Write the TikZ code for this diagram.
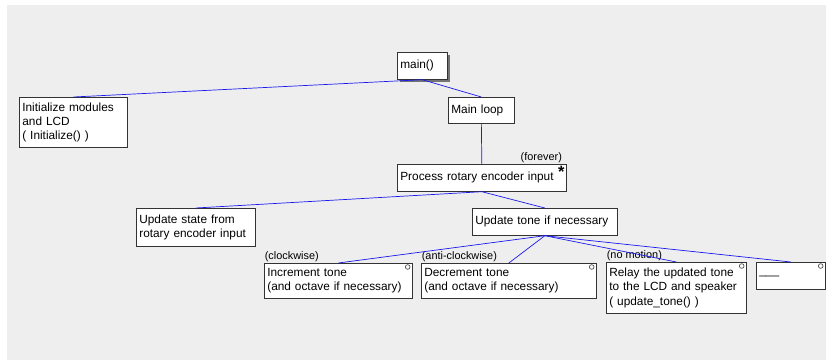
\documentclass[tikz,border=0pt]{standalone}
\usepackage{fontspec}
\setmainfont{Liberation Sans}
\usetikzlibrary{shadows}
\definecolor{canvas}{RGB}{238,238,238}
\definecolor{wire}{RGB}{25,25,240}
\begin{document}
\begin{tikzpicture}[x=0.03cm, y=-0.03cm,
		jbox/.style={draw=black!80, fill=white, anchor=north west, align=left, inner xsep=0.09cm, inner ysep=0pt, line width=0.6pt, font=\fontsize{10.1}{12.3}\selectfont},
		cond/.style={inner sep=0.5pt, font=\fontsize{9.3}{10}\selectfont},
		sel/.style={circle, draw=black!80, fill=white, inner sep=0pt, minimum size=0.14cm, line width=0.5pt},
		link/.style={wire, line width=0.6pt}]
		\useasboundingbox (0,0) rectangle (826,360);
		\fill[canvas] (7,5) rectangle (826,360);
		\node[jbox, text width=1.32cm, minimum height=0.81cm, drop shadow={shadow xshift=0.09cm, shadow yshift=-0.09cm, fill=black!55, opacity=1}] (main) at (397,52) {main()};
		\node[jbox, text width=1.8cm, minimum height=0.78cm] (loop) at (448,97) {Main loop};
		\node[jbox, text width=3.06cm, minimum height=1.5cm] (init) at (19,97) {Initialize modules\\and LCD\\( Initialize() )};
		\node[jbox, text width=4.89cm, minimum height=0.81cm] (proc) at (397,164) {Process rotary encoder input};
		\node[jbox, text width=3.39cm, minimum height=1.14cm] (state) at (136,208) {Update state from\\rotary encoder input};
		\node[jbox, text width=4.17cm, minimum height=0.81cm] (tone) at (472,208) {Update tone if necessary};
		\node[jbox, text width=4.26cm, minimum height=1.05cm] (inc) at (264,263) {Increment tone\\(and octave if necessary)};
		\node[jbox, text width=5.07cm, minimum height=1.05cm] (dec) at (421,263) {Decrement tone\\(and octave if necessary)};
		\node[jbox, text width=4.02cm, minimum height=1.53cm] (relay) at (606,262) {Relay the updated tone\\to the LCD and speaker\\( update\_tone() )};
		\node[jbox, text width=1.89cm, minimum height=0.81cm] (idle) at (756,262) {\_\_\_};
		\node[cond, anchor=south east] (forever) at ([xshift=-0.12cm]proc.north east) {(forever)};
		\node[cond, anchor=south west] (cw) at (inc.north west) {(clockwise)};
		\node[cond, anchor=south west] (acw) at (dec.north west) {(anti-clockwise)};
		\node[cond, anchor=south west] (still) at (relay.north west) {(no motion)};
		\node[inner sep=0pt, font=\fontsize{14}{14}\selectfont\bfseries] (iter) at ([shift={(-0.16cm,-0.24cm)}]proc.north east) {*};
		\node[sel] (incsel) at ([shift={(-0.15cm,-0.12cm)}]inc.north east) {};
		\node[sel] (decsel) at ([shift={(-0.15cm,-0.12cm)}]dec.north east) {};
		\node[sel] (relaysel) at ([shift={(-0.15cm,-0.12cm)}]relay.north east) {};
		\node[sel] (idlesel) at ([shift={(-0.15cm,-0.12cm)}]idle.north east) {};
		\draw[link] (main.south) -- (init.north);
		\draw[link] (main.south) -- (loop.north);
		\draw[link] (loop.south) -- (proc.north);
		\draw[link] (proc.south) -- (state.north);
		\draw[link] (proc.south) -- (tone.north);
		\draw[link] (tone.south) -- (inc.north);
		\draw[link] (tone.south) -- (dec.north);
		\draw[link] (tone.south) -- (relay.north);
		\draw[link] (tone.south) -- (idle.north);
\end{tikzpicture}
\end{document}
